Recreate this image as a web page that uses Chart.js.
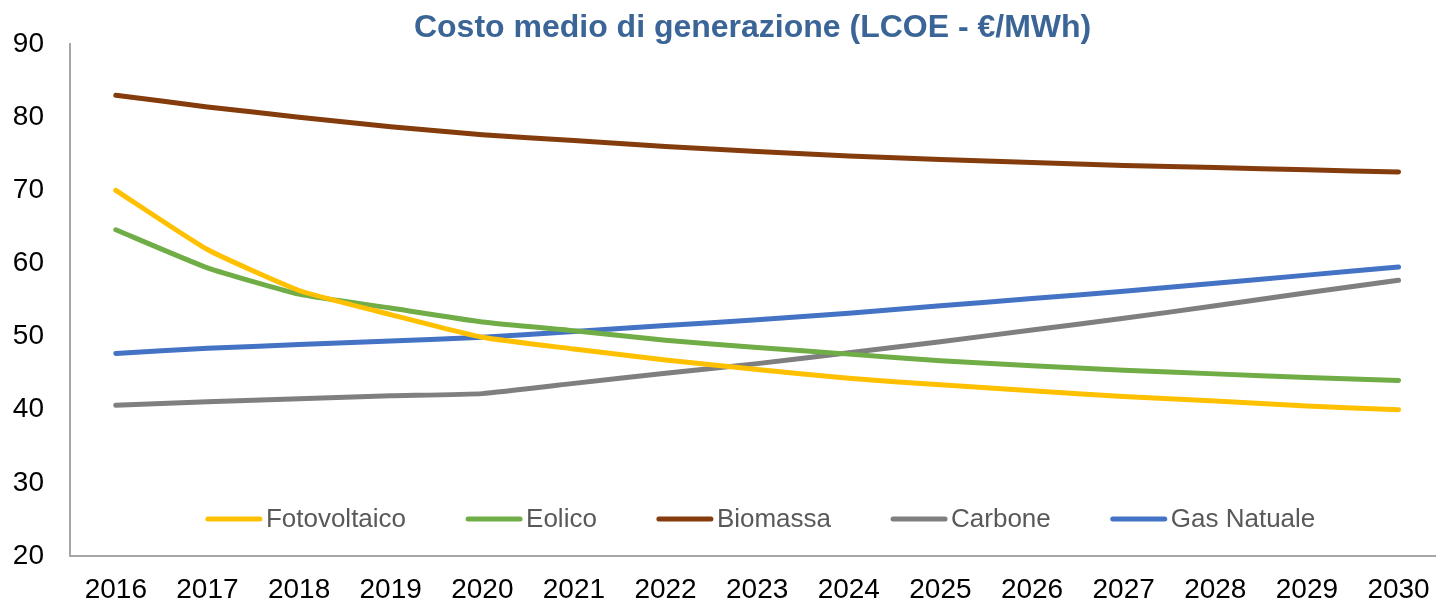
<!DOCTYPE html>
<html>
<head>
<meta charset="utf-8">
<script src="https://cdn.jsdelivr.net/npm/chart.js@4"></script>
<style>
  html, body { margin: 0; padding: 0; background: #fff; }
  #wrap { width: 1447px; height: 603px; }
</style>
</head>
<body>
<div id="wrap"><canvas id="lcoeChart"></canvas></div>
<script>
  // ==========================
  // Data
  // ==========================
  const years        = [2016, 2017, 2018, 2019, 2020, 2021, 2022, 2023, 2024, 2025, 2026, 2027, 2028, 2029, 2030];
  const fotovoltaico = [70.0, 61.9, 56.3, 53.0, 49.9, 48.3, 46.8, 45.5, 44.3, 43.4, 42.6, 41.8, 41.2, 40.5, 40.0];
  const eolico       = [64.6, 59.4, 55.8, 53.9, 52.0, 50.8, 49.5, 48.5, 47.6, 46.7, 46.0, 45.4, 44.9, 44.4, 44.0];
  const biomassa     = [83.0, 81.4, 80.0, 78.7, 77.6, 76.8, 76.0, 75.3, 74.7, 74.2, 73.8, 73.4, 73.1, 72.8, 72.5];
  const carbone      = [40.6, 41.1, 41.5, 41.9, 42.2, 43.6, 45.0, 46.3, 47.8, 49.3, 50.9, 52.5, 54.2, 56.0, 57.7];
  const gasNaturale  = [47.7, 48.4, 48.9, 49.4, 49.9, 50.7, 51.5, 52.3, 53.2, 54.2, 55.2, 56.2, 57.3, 58.4, 59.5];
  const yTicks       = [20, 30, 40, 50, 60, 70, 80, 90];

  const seriesNames  = ["Fotovoltaico", "Eolico", "Biomassa", "Carbone", "Gas Natuale"];
  const seriesData   = [fotovoltaico, eolico, biomassa, carbone, gasNaturale];
  const seriesColors = ["#FFC000", "#70AD47", "#843C0C", "#7F7F7F", "#4472C4"];

  const FONT = "'Liberation Sans', Arial, sans-serif";

  // ==========================
  // Legend drawn inside the plot area
  // ==========================
  const innerLegend = {
    id: "innerLegend",
    afterDatasetsDraw(chart) {
      const ctx = chart.ctx;
      const area = chart.chartArea;
      const lineLen = 56, textGap = 4, itemGap = 60;
      ctx.save();
      ctx.font = "26px " + FONT;
      const items = chart.data.datasets.map(ds => ({
        label: ds.label, color: ds.borderColor,
        w: lineLen + textGap + ctx.measureText(ds.label).width
      }));
      const total = items.reduce((s, it) => s + it.w, 0) + itemGap * (items.length - 1);
      let x = (area.left + area.right) / 2 - total / 2 + 8;
      const y = 519;
      items.forEach(it => {
        ctx.strokeStyle = it.color;
        ctx.lineWidth = 5;
        ctx.lineCap = "round";
        ctx.beginPath();
        ctx.moveTo(x + 2, y);
        ctx.lineTo(x + lineLen - 2, y);
        ctx.stroke();
        ctx.fillStyle = "#595959";
        ctx.textBaseline = "middle";
        ctx.textAlign = "left";
        ctx.fillText(it.label, x + lineLen + textGap, y + 1);
        x += it.w + itemGap;
      });
      ctx.restore();
    }
  };

  // ==========================
  // Chart
  // ==========================
  const ctx = document.getElementById("lcoeChart").getContext("2d");
  new Chart(ctx, {
    type: "line",
    data: {
      datasets: seriesNames.map((name, i) => ({
        label: name,
        data: years.map((yr, j) => ({ x: yr, y: seriesData[i][j] })),
        borderColor: seriesColors[i],
        backgroundColor: seriesColors[i],
        borderWidth: 5,
        borderCapStyle: "round",
        borderJoinStyle: "round",
        pointRadius: 0,
        tension: 0.15,
        fill: false
      }))
    },
    options: {
      responsive: true,
      maintainAspectRatio: false,
      animation: false,
      layout: { padding: { left: 0, right: 0, top: 0, bottom: 0 } },
      plugins: {
        legend: { display: false },
        tooltip: { enabled: false },
        title: {
          display: true,
          text: "Costo medio di generazione (LCOE - €/MWh)",
          color: "#3A6596",
          fullSize: false,
          font: { family: FONT, size: 32, weight: "bold", lineHeight: 1 },
          padding: { top: 12, bottom: 0 }
        }
      },
      scales: {
        x: {
          type: "linear",
          min: 2015.5,
          max: 2030.4,
          grid: { display: false, drawTicks: false },
          border: { display: true, color: "#A6A6A6", width: 2 },
          afterBuildTicks: scale => { scale.ticks = years.map(v => ({ value: v })); },
          afterFit: scale => { scale.height = 47; },
          ticks: {
            autoSkip: false,
            maxRotation: 0,
            padding: 17,
            color: "#000",
            font: { family: FONT, size: 28 },
            callback: v => String(v)
          }
        },
        y: {
          min: 20,
          max: 90,
          grid: { display: false, drawTicks: false },
          border: { display: true, color: "#A6A6A6", width: 2 },
          afterBuildTicks: scale => { scale.ticks = yTicks.map(v => ({ value: v })); },
          afterFit: scale => { scale.width = 70; },
          ticks: {
            padding: 26,
            color: "#000",
            font: { family: FONT, size: 28 }
          }
        }
      }
    },
    plugins: [innerLegend]
  });
</script>
</body>
</html>
